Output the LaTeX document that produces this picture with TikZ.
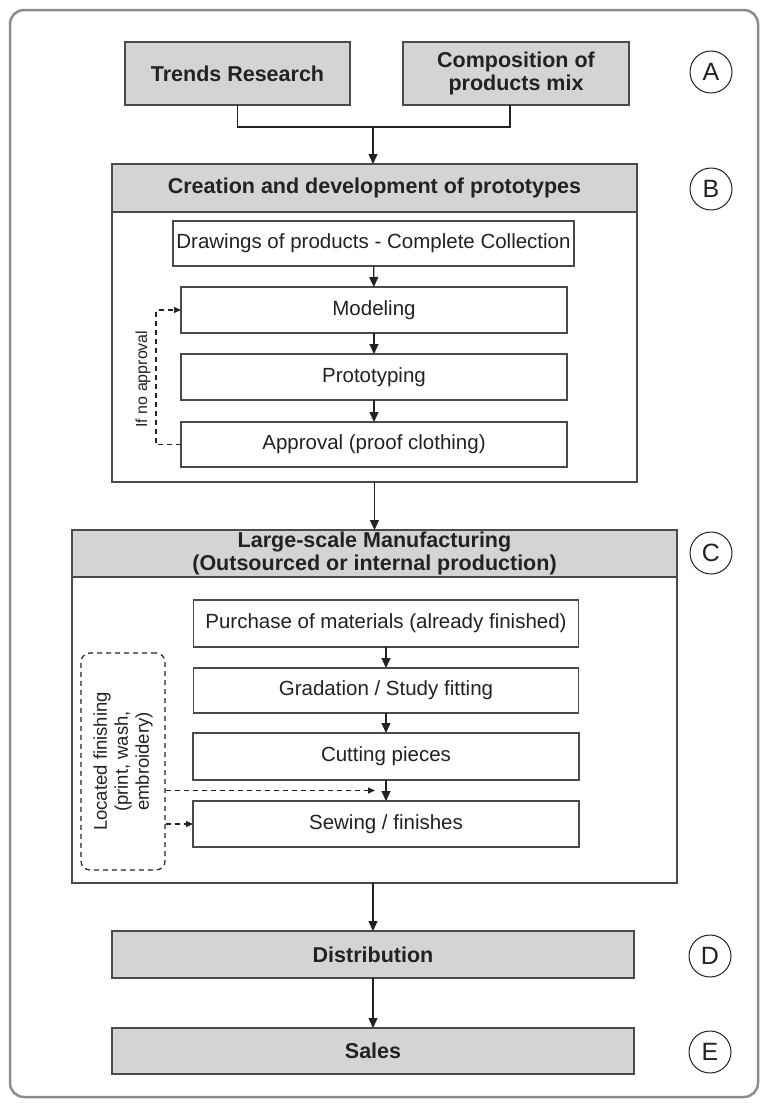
\documentclass[tikz,border=0pt]{standalone}
\usepackage{fontspec}
\setmainfont{Liberation Sans}
\usetikzlibrary{arrows.meta,calc}
\definecolor{boxgray}{HTML}{D4D4D4}
\definecolor{edge}{HTML}{4A4A4A}
\definecolor{framec}{HTML}{8C8C8C}
\definecolor{txt}{HTML}{222222}
\begin{document}
\begin{tikzpicture}[x=1pt,y=-1pt,
  base/.style={draw=edge, line width=1.5pt, inner sep=0pt, outer sep=0pt, text=txt, align=center},
  graybox/.style={base, fill=boxgray, font=\fontsize{21.5}{22.5}\selectfont\bfseries},
  whitebox/.style={base, fill=white, font=\fontsize{20.5}{23}\selectfont},
  container/.style={draw=edge, line width=1.5pt, inner sep=0pt, outer sep=0pt, fill=white},
  tag/.style={circle, draw=txt, line width=1pt, minimum size=42pt, inner sep=0pt, font=\fontsize{25}{25}\selectfont, text=txt},
  flow/.style={draw=txt, line width=1.3pt, -{Triangle[length=10pt,width=9pt]}},
  link/.style={draw=txt, line width=1.3pt},
  dasharrow/.style={draw=txt, line width=1.2pt, dash pattern=on 5pt off 4pt, -{Triangle[length=7pt,width=6pt]}},
]
\useasboundingbox (0,0) rectangle (762,1104);
\fill[white] (0,0) rectangle (762,1104);
\draw[framec, line width=2.5pt, rounded corners=14pt] (10,10) rectangle (758,1097);

% Stage A
\node[graybox, minimum width=225pt, minimum height=63pt] (trends) at (237.5,73.5) {Trends Research};
\node[graybox, minimum width=226pt, minimum height=63pt] (comp) at (516,73.5) {Composition of\\products mix};
\node[tag] (tA) at (711,72) {A};

% Stage B
\node[container, minimum width=525pt, minimum height=270pt] (bbox) at (374.5,347) {};
\node[graybox, minimum width=525pt, minimum height=48pt] (bhead) at (374.5,188) {Creation and development of prototypes};
\node[tag] (tB) at (711,189) {B};
\node[whitebox, minimum width=401pt, minimum height=45pt] (drw) at (373.5,243.5) {Drawings of products - Complete Collection};
\node[whitebox, minimum width=386pt, minimum height=46pt] (model) at (374,310) {Modeling};
\node[whitebox, minimum width=386pt, minimum height=46pt] (proto) at (374,377) {Prototyping};
\node[whitebox, minimum width=386pt, minimum height=45pt] (approv) at (374,444.5) {Approval (proof clothing)};
\node[rotate=90, text=txt, font=\fontsize{16}{18}\selectfont, inner sep=0pt] (noappr) at (143,379) {If no approval};

% Stage C
\node[container, minimum width=605pt, minimum height=306pt] (cbox) at (374.5,730) {};
\node[graybox, minimum width=605pt, minimum height=47pt] (chead) at (374.5,553.5) {Large-scale Manufacturing\\(Outsourced or internal production)};
\node[tag] (tC) at (711,553) {C};
\node[whitebox, minimum width=385pt, minimum height=47pt] (purch) at (386,623.5) {Purchase of materials (already finished)};
\node[whitebox, minimum width=385pt, minimum height=45pt] (grad) at (386,690.5) {Gradation / Study fitting};
\node[whitebox, minimum width=386pt, minimum height=47pt] (cut) at (386,756.5) {Cutting pieces};
\node[whitebox, minimum width=386pt, minimum height=46pt] (sew) at (386,824) {Sewing / finishes};
\node[draw=txt, line width=1.2pt, dash pattern=on 5pt off 4pt, rounded corners=9pt, minimum width=84pt, minimum height=217pt, inner sep=0pt] (located) at (123,761.5) {};
\node[rotate=90, text=txt, align=center, font=\fontsize{18.5}{21}\selectfont, inner sep=0pt] (loctext) at (located.center) {Located finishing\\(print, wash,\\embroidery)};

% Stages D, E
\node[graybox, minimum width=522pt, minimum height=47pt] (dist) at (373,954.5) {Distribution};
\node[tag] (tD) at (710,956) {D};
\node[graybox, minimum width=522pt, minimum height=46pt] (sales) at (373,1051) {Sales};
\node[tag] (tE) at (710,1052) {E};

% Connectors
\coordinate (j) at (373,127);
\draw[link] (trends.south) -- ++(0,22) -| ([xshift=-6pt]comp.south);
\draw[flow] (j) -- (j |- bhead.north);
\draw[flow] (drw) -- (model);
\draw[flow] (model) -- (proto);
\draw[flow] (proto) -- (approv);
\draw[dasharrow] (approv.west) -- ++(-25,0) |- (model.west);
\draw[flow] (bbox.south) -- (bbox.south |- chead.north);
\draw[flow] (purch) -- (grad);
\draw[flow] (grad) -- (cut);
\draw[flow] (cut) -- (sew);
\coordinate (m) at ($(cut.south)!0.5!(sew.north)$);
\draw[dasharrow] (located.east |- m) -- ([xshift=-11pt]m);
\draw[dasharrow] (located.east |- sew.west) -- (sew.west);
\draw[flow] (dist.north |- cbox.south) -- (dist.north);
\draw[flow] (dist) -- (sales);
\end{tikzpicture}
\end{document}
